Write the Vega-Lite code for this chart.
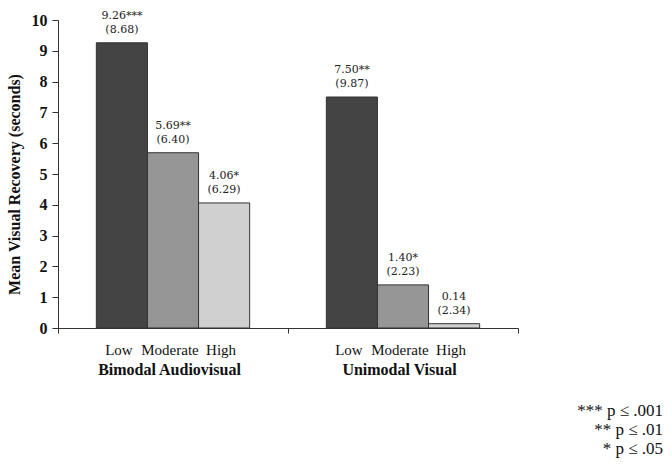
{
  "$schema": "https://vega.github.io/schema/vega-lite/v6.json",
  "width": 460,
  "height": 308,
  "autosize": {"type": "none"},
  "padding": {"left": 58, "top": 20, "right": 154, "bottom": 137},
  "background": "white",
  "config": {"view": {"stroke": null}, "font": "Liberation Serif"},
  "title": {
    "text": ["*** p ≤ .001", "** p ≤ .01", "* p ≤ .05"],
    "orient": "bottom",
    "anchor": "end",
    "frame": "group",
    "align": "right",
    "dx": 145,
    "offset": 26,
    "font": "Liberation Serif",
    "fontSize": 17,
    "fontWeight": "normal",
    "lineHeight": 19,
    "color": "#111111"
  },
  "data": {
    "values": [
      {"modality": "Bimodal Audiovisual", "level": "Low", "mean": 9.26, "meanLabel": "9.26***", "sdLabel": "(8.68)"},
      {"modality": "Bimodal Audiovisual", "level": "Moderate", "mean": 5.69, "meanLabel": "5.69**", "sdLabel": "(6.40)"},
      {"modality": "Bimodal Audiovisual", "level": "High", "mean": 4.06, "meanLabel": "4.06*", "sdLabel": "(6.29)"},
      {"modality": "Unimodal Visual", "level": "Low", "mean": 7.50, "meanLabel": "7.50**", "sdLabel": "(9.87)"},
      {"modality": "Unimodal Visual", "level": "Moderate", "mean": 1.40, "meanLabel": "1.40*", "sdLabel": "(2.23)"},
      {"modality": "Unimodal Visual", "level": "High", "mean": 0.14, "meanLabel": "0.14", "sdLabel": "(2.34)"}
    ]
  },
  "encoding": {
    "x": {
      "field": "modality", "type": "nominal",
      "sort": ["Bimodal Audiovisual", "Unimodal Visual"],
      "scale": {"paddingInner": 0, "paddingOuter": 0},
      "axis": {
        "title": null, "labelAngle": 0, "labelFont": "Liberation Serif", "labelFontSize": 16,
        "labelFontWeight": "bold", "labelColor": "#111111", "labelPadding": 28, "labelOffset": -4,
        "tickBand": "extent", "tickSize": 5, "tickColor": "#333333", "domainColor": "#333333", "grid": false
      }
    },
    "xOffset": {
      "field": "level", "type": "nominal", "sort": ["Low", "Moderate", "High"],
      "scale": {"paddingInner": 0, "paddingOuter": 0.75}
    },
    "y": {
      "field": "mean", "type": "quantitative",
      "scale": {"domain": [0, 10], "nice": false},
      "axis": {
        "title": "Mean Visual Recovery (seconds)", "titleFont": "Liberation Serif", "titleFontSize": 16,
        "titleFontWeight": "bold", "titleColor": "#111111", "titleAngle": -90, "titleX": -44, "titleY": 164,
        "titleAlign": "center", "titleBaseline": "middle",
        "values": [0, 1, 2, 3, 4, 5, 6, 7, 8, 9, 10], "labelOverlap": false,
        "labelFont": "Liberation Serif", "labelFontSize": 16, "labelFontWeight": "bold", "labelColor": "#111111",
        "labelPadding": 5, "tickSize": 6, "tickColor": "#333333", "domainColor": "#333333", "grid": false
      }
    }
  },
  "layer": [
    {
      "mark": {"type": "bar", "stroke": "#333333", "strokeWidth": 1},
      "encoding": {
        "color": {
          "field": "level", "type": "nominal",
          "scale": {"domain": ["Low", "Moderate", "High"], "range": ["#444444", "#969696", "#d0d0d0"]},
          "legend": null
        }
      }
    },
    {
      "mark": {"type": "text", "baseline": "alphabetic", "dy": -24, "font": "DejaVu Serif", "fontSize": 11, "color": "#222222"},
      "encoding": {"text": {"field": "meanLabel"}}
    },
    {
      "mark": {"type": "text", "baseline": "alphabetic", "dy": -10, "font": "DejaVu Serif", "fontSize": 11, "color": "#222222"},
      "encoding": {"text": {"field": "sdLabel"}}
    },
    {
      "mark": {"type": "text", "baseline": "middle", "dy": 22, "dx": -3, "font": "Liberation Serif", "fontSize": 15, "color": "#111111"},
      "encoding": {
        "y": {"datum": 0},
        "text": {"field": "level"}
      }
    }
  ]
}
